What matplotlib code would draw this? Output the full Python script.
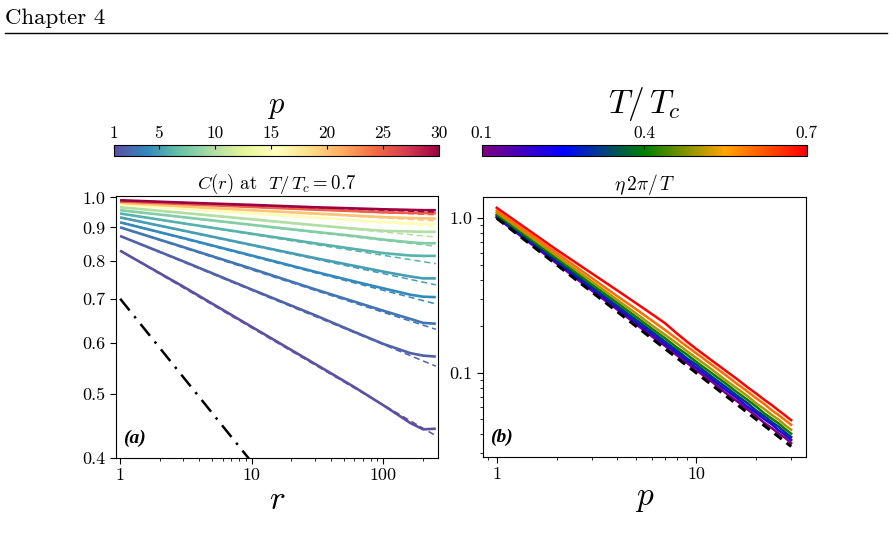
import numpy as np
import matplotlib
matplotlib.use("Agg")
import matplotlib.pyplot as plt
from matplotlib.colors import Normalize, LinearSegmentedColormap
from matplotlib.cm import ScalarMappable
from matplotlib.lines import Line2D
from matplotlib.ticker import FixedLocator, FixedFormatter, NullLocator, LogLocator, NullFormatter

plt.rcParams['font.family'] = 'serif'
plt.rcParams['font.serif'] = ['cmr10', 'DejaVu Serif']
plt.rcParams['mathtext.fontset'] = 'cm'
plt.rcParams['axes.formatter.use_mathtext'] = True

# ---------------- data: panel (a) ----------------
r_pts = [1, 3, 10, 30, 60, 100, 160, 200, 250]
p_values = [1, 2, 3, 4, 5, 6, 8, 10, 15, 20, 25, 30]
C_data = {
    1:  [0.829, 0.731, 0.634, 0.557, 0.513, 0.481, 0.452, 0.442, 0.443],
    2:  [0.873, 0.799, 0.723, 0.661, 0.623, 0.597, 0.578, 0.573, 0.571],
    3:  [0.900, 0.840, 0.778, 0.724, 0.693, 0.671, 0.652, 0.643, 0.641],
    4:  [0.916, 0.867, 0.815, 0.770, 0.744, 0.726, 0.710, 0.705, 0.704],
    5:  [0.932, 0.890, 0.846, 0.808, 0.786, 0.770, 0.757, 0.752, 0.752],
    6:  [0.945, 0.913, 0.880, 0.851, 0.834, 0.822, 0.815, 0.814, 0.814],
    8:  [0.956, 0.933, 0.908, 0.886, 0.873, 0.862, 0.854, 0.851, 0.851],
    10: [0.966, 0.947, 0.926, 0.907, 0.896, 0.889, 0.887, 0.886, 0.886],
    15: [0.975, 0.961, 0.946, 0.932, 0.923, 0.917, 0.913, 0.911, 0.910],
    20: [0.981, 0.969, 0.956, 0.945, 0.938, 0.933, 0.930, 0.929, 0.928],
    25: [0.986, 0.977, 0.967, 0.958, 0.953, 0.949, 0.947, 0.946, 0.946],
    30: [0.990, 0.982, 0.974, 0.966, 0.962, 0.959, 0.957, 0.956, 0.956],
}
# power-law fits C(r) = A r^-eta
fit_A = [0.829, 0.873, 0.900, 0.916, 0.932, 0.945, 0.956, 0.966, 0.975, 0.981, 0.986, 0.990]
fit_eta = [0.118, 0.083, 0.065, 0.052, 0.043, 0.032, 0.023, 0.019, 0.014, 0.0115, 0.0085, 0.0075]
ref_A, ref_eta = 0.7, 0.25

# ---------------- data: panel (b) ----------------
p_axis = [1, 2, 3, 4, 5, 6, 7, 8, 9, 10, 12, 14, 16, 18, 20, 22, 24, 26, 28, 30]
T_values = [0.1, 0.2, 0.3, 0.4, 0.5, 0.6, 0.7]
eta_scaled = {
    0.1: [1.01, 0.510, 0.340, 0.258, 0.206, 0.172, 0.149, 0.130, 0.116, 0.104, 0.0875, 0.0743, 0.0656, 0.0583, 0.0525, 0.0473, 0.0438, 0.0404, 0.0379, 0.0350],
    0.2: [1.02, 0.520, 0.350, 0.265, 0.212, 0.178, 0.153, 0.135, 0.120, 0.108, 0.0908, 0.0779, 0.0688, 0.0606, 0.0550, 0.0500, 0.0463, 0.0423, 0.0396, 0.0367],
    0.3: [1.04, 0.535, 0.360, 0.273, 0.220, 0.185, 0.159, 0.140, 0.124, 0.113, 0.0942, 0.0814, 0.0713, 0.0639, 0.0570, 0.0523, 0.0479, 0.0446, 0.0411, 0.0383],
    0.4: [1.06, 0.550, 0.373, 0.285, 0.230, 0.193, 0.167, 0.146, 0.131, 0.118, 0.0992, 0.0857, 0.0750, 0.0672, 0.0605, 0.0545, 0.0504, 0.0469, 0.0432, 0.0403],
    0.5: [1.09, 0.570, 0.390, 0.298, 0.242, 0.203, 0.176, 0.155, 0.138, 0.125, 0.105, 0.0900, 0.0794, 0.0711, 0.0635, 0.0582, 0.0533, 0.0496, 0.0457, 0.0427],
    0.6: [1.12, 0.595, 0.410, 0.315, 0.258, 0.218, 0.189, 0.166, 0.148, 0.134, 0.1125, 0.0971, 0.0850, 0.0761, 0.0685, 0.0627, 0.0571, 0.0531, 0.0493, 0.0460],
    0.7: [1.17, 0.625, 0.440, 0.343, 0.282, 0.240, 0.209, 0.180, 0.159, 0.143, 0.120, 0.1036, 0.0913, 0.0811, 0.0735, 0.0668, 0.0617, 0.0569, 0.0529, 0.0493],
}
ref_p = [1, 30]
ref_val = [1.0, 1 / 30]

# ---------------- figure ----------------
W, H = 892, 551
fig = plt.figure(figsize=(W / 100, H / 100), dpi=100)

def box(x0, y0, x1, y1):
    return [x0 / W, 1 - y1 / H, (x1 - x0) / W, (y1 - y0) / H]

# header
fig.text(5 / W, 1 - 24 / H, 'Chapter 4', fontsize=16.5, ha='left', va='baseline')
fig.add_artist(Line2D([5 / W, 887 / W], [1 - 33 / H] * 2, color='black', lw=1.0))

axA = fig.add_axes(box(116, 196, 438.3, 457.7))
axB = fig.add_axes(box(482.7, 196.7, 806, 456.7))
caxA = fig.add_axes(box(114, 145, 439, 155.7))
caxB = fig.add_axes(box(481.7, 145, 806.7, 156))

cmapA = plt.get_cmap('Spectral_r')
normA = Normalize(1, 30)
cmapB = LinearSegmentedColormap.from_list('tc', ['purple', 'blue', 'green', 'orange', 'red'])
normB = Normalize(0.1, 0.7)

# panel (a)
r_fit = np.logspace(0, np.log10(250), 100)
for i, p in enumerate(p_values):
    c = cmapA(normA(p))
    axA.plot(r_pts, C_data[p], color=c, lw=1.9, solid_capstyle='butt')
    axA.plot(r_fit, fit_A[i] * r_fit ** (-fit_eta[i]), color=c, lw=1.1, ls=(0, (4, 2.5)))
axA.plot(r_fit, ref_A * r_fit ** (-ref_eta), color='black', lw=1.8, ls=(0, (6, 3, 1, 3)))
axA.set_xscale('log')
axA.set_yscale('log')
axA.set_xlim(0.93, 261)
axA.set_ylim(0.4, 1.005)
yt = [0.4, 0.5, 0.6, 0.7, 0.8, 0.9, 1.0]
axA.yaxis.set_major_locator(FixedLocator(yt))
axA.yaxis.set_major_formatter(FixedFormatter(['0.4', '0.5', '0.6', '0.7', '0.8', '0.9', '1.0']))
axA.yaxis.set_minor_locator(NullLocator())
axA.xaxis.set_major_locator(FixedLocator([1, 10, 100]))
axA.xaxis.set_major_formatter(FixedFormatter(['1', '10', '100']))
axA.xaxis.set_minor_locator(LogLocator(base=10, subs=np.arange(2, 10)))
axA.xaxis.set_minor_formatter(NullFormatter())
axA.set_xlabel(r'$r$', fontsize=24, labelpad=2)
axA.set_title(r'$C(r)$ at  $T/\,T_c = 0.7$', fontsize=13.5, pad=5)
axA.text(0.022, 0.075, '(a)', transform=axA.transAxes, fontsize=14,
         family='Liberation Serif', style='italic', weight='bold', va='center')

# panel (b)
for T in T_values:
    axB.plot(p_axis, eta_scaled[T], color=cmapB(normB(T)), lw=1.8)
axB.plot(ref_p, ref_val, color='black', lw=2.2, ls=(0, (3, 2)))
axB.set_xscale('log')
axB.set_yscale('log')
axB.set_xlim(0.85, 35.6)
axB.set_ylim(0.0286, 1.38)
axB.xaxis.set_major_locator(FixedLocator([1, 10]))
axB.xaxis.set_major_formatter(FixedFormatter(['1', '10']))
axB.xaxis.set_minor_locator(LogLocator(base=10, subs=np.arange(2, 10)))
axB.xaxis.set_minor_formatter(NullFormatter())
axB.yaxis.set_major_locator(FixedLocator([0.1, 1.0]))
axB.yaxis.set_major_formatter(FixedFormatter(['0.1', '1.0']))
axB.yaxis.set_minor_locator(LogLocator(base=10, subs=np.arange(2, 10)))
axB.yaxis.set_minor_formatter(NullFormatter())
axB.set_xlabel(r'$p$', fontsize=24, labelpad=2)
axB.set_title(r'$\eta\, 2\pi/\,T$', fontsize=14, pad=5)
axB.text(0.022, 0.075, '(b)', transform=axB.transAxes, fontsize=14,
         family='Liberation Serif', style='italic', weight='bold', va='center')

for ax in (axA, axB):
    ax.tick_params(which='major', labelsize=13, length=4, width=0.8)
    ax.tick_params(which='minor', length=2.5, width=0.6)

# colorbars
cbA = fig.colorbar(ScalarMappable(norm=normA, cmap=cmapA), cax=caxA,
                   orientation='horizontal', ticklocation='top')
cbA.set_ticks([1, 5, 10, 15, 20, 25, 30])
cbA.set_ticklabels(['1', '5', '10', '15', '20', '25', '30'])
cbA.set_label(r'$p$', fontsize=22, labelpad=9)
cbB = fig.colorbar(ScalarMappable(norm=normB, cmap=cmapB), cax=caxB,
                   orientation='horizontal', ticklocation='top')
cbB.set_ticks([0.1, 0.4, 0.7])
cbB.set_ticklabels(['0.1', '0.4', '0.7'])
cbB.set_label(r'$T/\,T_c$', fontsize=24, labelpad=9)
for cax in (caxA, caxB):
    cax.tick_params(direction='in', length=3, labelsize=12.5, pad=3)
    cax.minorticks_off()

fig.savefig('out.png', dpi=100)
